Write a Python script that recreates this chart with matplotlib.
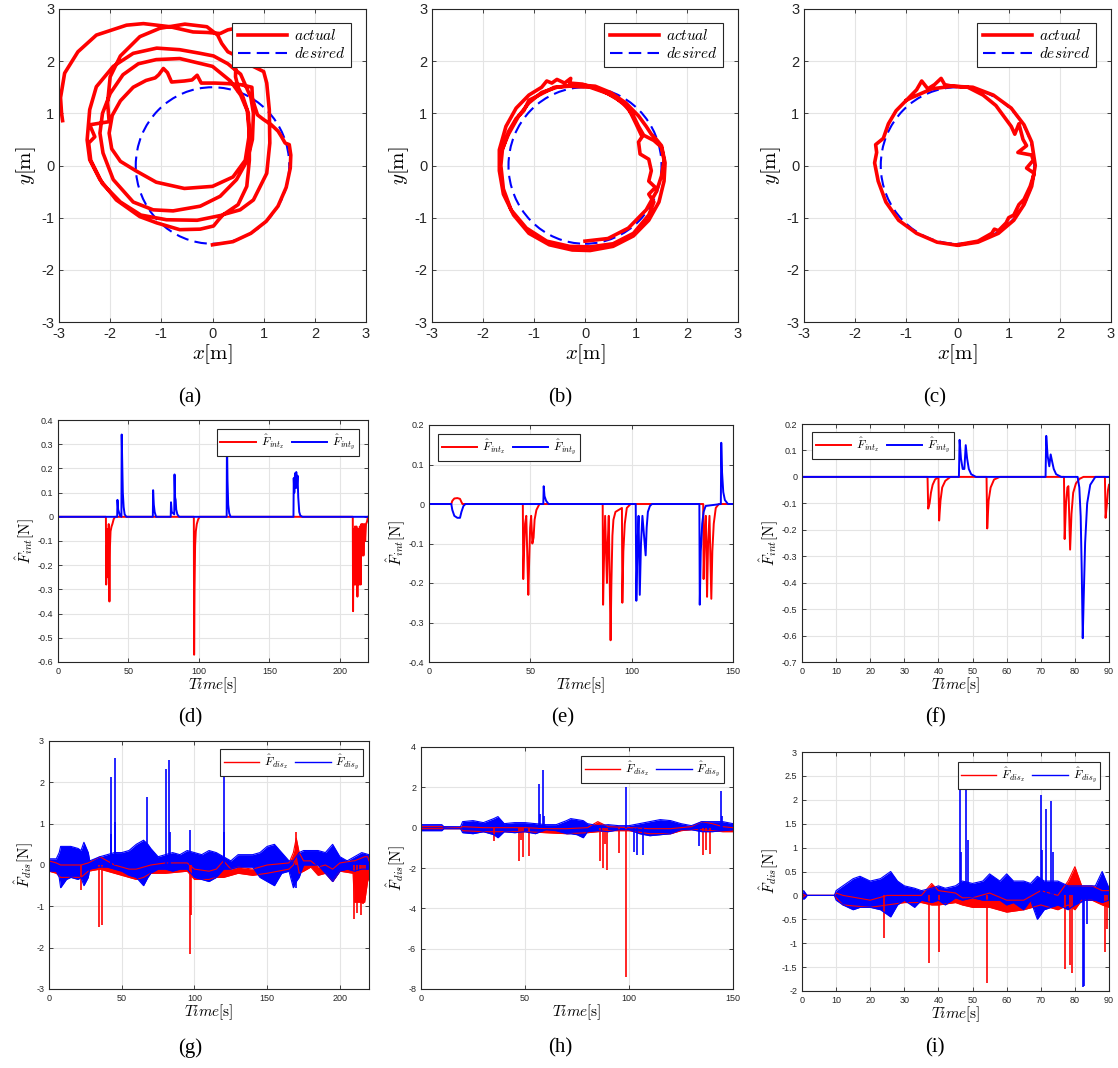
import matplotlib
matplotlib.use("Agg")
import matplotlib.pyplot as plt
from matplotlib.lines import Line2D
from matplotlib.patches import Circle
from matplotlib.ticker import FuncFormatter

plt.rcParams["font.family"] = ["Liberation Sans", "DejaVu Sans"]
plt.rcParams["mathtext.fontset"] = "cm"
plt.rcParams["axes.unicode_minus"] = False

W, H = 1118, 1068
RED, BLUE = "#ff0000", "#0000ff"

# ---------------- row 1: trajectories ----------------
DESIRED_RADIUS = 1.5

traj_a_x = [0.00, 0.40, 0.75, 1.05, 1.28, 1.44, 1.52, 1.53, 1.50, 1.42,
            1.35, 1.28, 1.15, 1.00, 0.88, 0.82, 0.78, 0.77, 0.55, 0.30, 0.05, -0.22, -0.30, -0.40, -0.55,
            -0.80, -0.88, -0.96, -1.05, -1.12, -1.30, -1.55, -1.80, -1.96, -2.02, -1.97, -1.80, -1.50,
            -1.10, -0.55, 0.00, 0.40, 0.64, 0.72, 0.68, 0.55,
            0.35, 0.00, -0.64, -1.10, -1.45, -1.75, -2.00, -2.15, -2.20, -2.14, -1.94, -1.55, -1.16,
            -0.77, -0.24, 0.15, 0.47, 0.68, 0.78, 0.80, 0.75,
            0.55, 0.30, 0.02, -0.24, -0.64, -1.09, -1.55, -1.94, -2.27, -2.40, -2.45, -2.40, -2.20,
            -1.88, -1.42, -1.09, -0.64, -0.24, 0.02, 0.12, 0.21, 0.54, 0.80, 1.06, 1.12, 1.11, 1.06,
            1.00, 0.67, 0.47, 0.30, 0.18, 0.10,
            -0.11, -0.54, -1.03, -1.42, -1.80, -2.00, -2.05, -2.02, -2.40, -2.30, -2.42, -2.38, -2.15,
            -1.80, -1.40, -0.90, -0.30, 0.20, 0.50, 0.67, 0.72, 0.72, 0.70, 0.60, 0.50, 0.45, 0.46,
            0.46, 0.40, 0.30, 0.15, -0.10, -0.38, -0.83, -1.35, -1.68, -2.27, -2.63, -2.89, -2.97,
            -2.95, -2.93]
traj_a_y = [-1.52, -1.46, -1.30, -1.07, -0.78, -0.42, -0.05, 0.20, 0.40, 0.43,
            0.55, 0.66, 0.78, 0.88, 0.97, 1.15, 1.30, 1.50, 1.55, 1.57, 1.58, 1.58, 1.73, 1.64, 1.62,
            1.60, 1.78, 1.86, 1.74, 1.68, 1.63, 1.50, 1.24, 0.96, 0.62, 0.32, 0.08, -0.10,
            -0.32, -0.44, -0.40, -0.22, 0.10, 0.60, 1.05, 1.35,
            1.62, 1.90, 2.05, 2.03, 1.95, 1.74, 1.38, 1.00, 0.62, 0.24, -0.27, -0.70, -0.85,
            -0.87, -0.78, -0.59, -0.27, 0.10, 0.50, 1.00, 1.30,
            1.75, 1.95, 2.10, 2.15, 2.22, 2.25, 2.15, 1.90, 1.51, 1.07, 0.49, 0.11, -0.27,
            -0.66, -0.98, -1.10, -1.23, -1.22, -1.16, -1.04, -0.94, -0.85, -0.66, -0.15, 0.43, 1.07, 1.58,
            1.80, 1.96, 2.10, 2.18, 2.34, 2.50,
            2.66, 2.71, 2.63, 2.47, 2.10, 1.70, 1.20, 0.84, 0.78, 0.55, 0.43, 0.10, -0.35,
            -0.70, -0.95, -1.04, -1.05, -0.95, -0.75, -0.40, 0.10, 0.60, 1.00, 1.30, 1.50, 1.70, 2.20,
            2.55, 2.62, 2.60, 2.53, 2.55, 2.56, 2.66, 2.72, 2.69, 2.50, 2.18, 1.77, 1.30,
            1.00, 0.86]

traj_b_x = [0.00, 0.45, 0.85, 1.20, 1.40, 1.50, 1.55, 1.50, 1.35, 1.15, 1.05, 0.95, 0.75, 0.45, 0.10,
            -0.30, -0.60, -0.90, -1.10, -1.20, -1.35, -1.50, -1.62, -1.65, -1.60, -1.45, -1.15, -0.75,
            -0.30, 0.10, 0.55, 0.95, 1.25, 1.35, 1.25, 1.38, 1.25, 1.30, 1.25, 1.08, 1.05, 1.12, 1.00,
            0.85, 0.60, 0.30, -0.05, -0.30, -0.28, -0.40, -0.55, -0.65, -0.75, -0.85, -1.10, -1.35,
            -1.55, -1.68, -1.68, -1.60, -1.40, -1.10, -0.70, -0.25, 0.10, 0.55, 0.95, 1.25, 1.45, 1.55,
            1.57, 1.50, 1.40, 1.30, 1.20, 1.05, 0.80, 0.50, 0.20, -0.20, -0.55, -0.85, -1.10, -1.30,
            -1.50, -1.65]
traj_b_y = [-1.45, -1.40, -1.20, -0.85, -0.50, -0.20, 0.10, 0.35, 0.48, 0.58, 0.75, 0.95, 1.20, 1.38,
            1.50, 1.52, 1.50, 1.35, 1.25, 1.05, 0.90, 0.65, 0.30, 0.00, -0.45, -0.85, -1.20, -1.45,
            -1.55, -1.56, -1.50, -1.30, -0.95, -0.70, -0.55, -0.42, -0.30, -0.10, 0.12, 0.22, 0.45,
            0.55, 0.80, 1.10, 1.30, 1.45, 1.56, 1.58, 1.67, 1.58, 1.65, 1.58, 1.62, 1.50, 1.35, 1.10,
            0.75, 0.30, -0.10, -0.55, -0.95, -1.30, -1.52, -1.62, -1.63, -1.55, -1.35, -1.05, -0.70,
            -0.30, 0.05, 0.38, 0.50, 0.60, 0.75, 0.95, 1.20, 1.40, 1.52, 1.55, 1.50, 1.40, 1.20, 0.95,
            0.60, 0.25]

traj_c_x = [0.00, 0.40, 0.67, 0.72, 0.80, 0.95, 1.00, 1.10, 1.20, 1.30, 1.42, 1.50, 1.35, 1.48, 1.45,
            1.18, 1.35, 1.28, 1.20, 1.12, 1.05, 0.90, 0.75, 0.50, 0.20, -0.10, -0.25, -0.32, -0.45,
            -0.58, -0.70, -0.80, -1.00, -1.20, -1.35, -1.45, -1.60, -1.58, -1.62, -1.55, -1.40, -1.15,
            -0.80, -0.40, 0.00, 0.40, 0.80, 1.10, 1.30, 1.45, 1.52, 1.45, 1.30, 1.05, 0.70, 0.30,
            -0.10, -0.50, -0.90, -1.00]
traj_c_y = [-1.52, -1.45, -1.30, -1.22, -1.25, -1.10, -1.00, -0.95, -0.75, -0.65, -0.40, -0.15,
            -0.05, 0.10, 0.20, 0.25, 0.38, 0.50, 0.80, 0.60, 0.75, 0.95, 1.15, 1.35, 1.50, 1.52, 1.55,
            1.67, 1.55, 1.47, 1.62, 1.45, 1.25, 1.05, 0.80, 0.52, 0.40, 0.25, 0.05, -0.30, -0.70,
            -1.05, -1.30, -1.47, -1.53, -1.47, -1.30, -1.05, -0.75, -0.40, 0.00, 0.45, 0.78, 1.10,
            1.35, 1.50, 1.52, 1.47, 1.30, 1.25]

# ---------------- row 2: interaction force estimates ----------------
d_tx = [0, 34.0, 34.2, 34.5, 34.8, 35.2, 35.6, 36.0, 36.5, 36.9, 37.3, 38.0, 38.6, 39.5, 40.5,
        96.4, 96.6, 96.9, 97.3, 97.8, 98.5, 99.5, 100.6,
        209.2, 209.4, 209.8, 210.3, 210.8, 211.3, 211.8, 212.5, 213.2, 213.7, 214.2, 214.8,
        215.3, 215.8, 216.3, 216.8, 217.4, 218.0, 218.6, 219.3, 220]
d_x = [0, 0, -0.28, -0.12, -0.25, -0.05, -0.18, -0.03, -0.35, -0.12, -0.06, -0.04, -0.03, -0.01, 0,
       0, -0.57, -0.30, -0.12, -0.06, -0.03, -0.01, 0,
       0, -0.39, -0.05, -0.28, -0.04, -0.28, -0.04, -0.33, -0.05, -0.28, -0.04, -0.28,
       -0.03, -0.16, -0.03, -0.16, -0.03, -0.10, -0.03, -0.02, 0]
d_ty = [0, 42.0, 42.2, 42.7, 43.2, 44.0, 45.0, 45.2, 45.6, 46.0, 46.6, 47.3, 48.5,
        67.3, 67.5, 68.0, 68.6, 69.6, 80.0, 80.2, 80.7, 82.5, 82.7, 83.1, 83.5, 83.9, 84.7, 86.0,
        119.7, 119.9, 120.3, 120.8, 121.5, 122.5, 167.1, 167.3, 167.7, 168.2, 168.6, 169.1,
        169.5, 170.0, 170.5, 171.2, 172.0, 173.5, 220]
d_y = [0, 0, 0.07, 0.03, 0.02, 0.005, 0, 0.34, 0.22, 0.10, 0.04, 0.01, 0,
       0, 0.11, 0.05, 0.02, 0, 0, 0.06, 0.02, 0.01, 0.175, 0.08, 0.07, 0.03, 0.01, 0,
       0, 0.33, 0.15, 0.05, 0.015, 0, 0, 0.16, 0.10, 0.18, 0.12, 0.185,
       0.12, 0.17, 0.08, 0.02, 0.005, 0, 0]

e_tx = [0, 11.0, 11.5, 12.5, 14.0, 15.3, 16.0, 16.5, 46.3, 46.5, 46.9, 47.4, 48.0, 49.0, 49.4, 49.9,
        50.4, 51.0, 51.6, 52.1, 53.0, 54.5, 85.7, 85.9, 86.3, 86.9, 87.8, 88.2, 88.7, 89.6, 90.0,
        90.5, 91.0, 92.0, 95.2, 95.4, 95.9, 96.6, 97.6, 99.5, 135.3, 135.5, 136.0, 136.6, 137.2,
        137.7, 138.4, 139.3, 139.8, 140.5, 141.5, 143.0, 150]
e_x = [0, 0, 0.008, 0.014, 0.015, 0.013, 0.005, 0, 0, -0.19, -0.12, -0.05, -0.03, -0.23, -0.15, -0.06,
       -0.03, -0.10, -0.085, -0.04, -0.015, 0, 0, -0.255, -0.15, -0.03, -0.20, -0.10, -0.03, -0.345,
       -0.20, -0.08, -0.04, -0.02, -0.01, -0.25, -0.12, -0.05, -0.01, 0, 0, -0.19, -0.08, -0.03,
       -0.235, -0.10, -0.03, -0.24, -0.12, -0.05, -0.01, 0, 0]
e_ty = [0, 11.0, 11.5, 12.5, 14.0, 15.3, 16.0, 17.0, 18.0, 56.4, 56.6, 57.0, 57.8, 59.0, 102.0,
        102.3, 102.8, 103.4, 104.0, 104.6, 105.3, 106.9, 107.4, 108.0, 109.0, 110.0, 133.4, 133.6,
        134.1, 134.8, 135.5, 136.5, 144.0, 144.2, 144.6, 145.2, 146.0, 147.5, 150]
e_y = [0, 0, -0.015, -0.03, -0.035, -0.035, -0.02, -0.005, 0, 0, 0.045, 0.02, 0.008, 0, 0,
       -0.245, -0.12, -0.03, -0.23, -0.10, -0.03, -0.13, -0.06, -0.02, -0.005, 0, 0, -0.255,
       -0.12, -0.05, -0.02, -0.005, 0, 0.155, 0.08, 0.03, 0.01, 0, 0]

f_tx = [0, 36.8, 37.0, 37.4, 37.8, 38.3, 39.0, 40.0, 40.2, 40.6, 41.1, 42.0, 43.5, 54.1, 54.3, 54.7,
        55.3, 56.3, 58.0, 76.8, 77.0, 77.4, 77.8, 78.1, 78.6, 79.0, 79.5, 80.3, 81.3, 82.5, 88.8,
        89.0, 89.4, 89.7, 90]
f_x = [0, 0, -0.12, -0.10, -0.06, -0.03, -0.01, 0, -0.165, -0.09, -0.04, -0.015, 0, 0, -0.195, -0.09,
       -0.04, -0.01, 0, 0, -0.235, -0.10, -0.04, -0.035, -0.275, -0.14, -0.06, -0.025, -0.008, 0, 0,
       -0.155, -0.10, -0.05, -0.03]
f_ty = [0, 46.0, 46.2, 46.6, 47.1, 47.6, 48.0, 48.4, 48.9, 49.6, 51.0, 71.4, 71.6, 72.0, 72.5, 72.9,
        73.3, 73.8, 74.5, 76.0, 80.8, 81.3, 81.7, 82.0, 82.3, 82.6, 83.0, 83.6, 84.5, 86.0, 90]
f_y = [0, 0, 0.14, 0.07, 0.03, 0.03, 0.12, 0.07, 0.03, 0.01, 0, 0, 0.155, 0.08, 0.04, 0.085,
       0.06, 0.03, 0.01, 0, 0, -0.04, -0.15, -0.35, -0.61, -0.45, -0.25, -0.10, -0.03, 0, 0]

# ---------------- row 3: disturbance estimates (noise envelopes + spikes) ----------------
g_bt = [0, 5, 7, 8, 12, 15, 20, 22, 24, 27, 28, 35, 40, 45, 50, 55, 60, 65, 68, 70, 75, 80, 85, 90,
        95, 100, 105, 110, 115, 120, 125, 130, 140, 145, 150, 155, 160, 165, 168, 170, 172, 175,
        180, 185, 190, 195, 200, 205, 210, 215, 220]
g_blo = [-0.15, -0.15, -0.3, -0.55, -0.35, -0.3, -0.35, -0.3, -0.5, -0.3, -0.1, -0.05, -0.05, -0.1,
         -0.15, -0.25, -0.3, -0.5, -0.3, -0.2, -0.1, -0.1, -0.15, -0.1, -0.1, -0.3, -0.35, -0.4,
         -0.3, -0.1, -0.1, -0.05, -0.05, -0.3, -0.4, -0.5, -0.2, -0.15, -0.55, -0.4, -0.3, 0.0,
         0.0, 0.0, -0.2, -0.4, -0.15, -0.1, -0.15, -0.1, -0.1]
g_bhi = [0.15, 0.15, 0.3, 0.45, 0.45, 0.45, 0.4, 0.35, 0.55, 0.3, 0.1, 0.2, 0.25, 0.3, 0.3, 0.35,
         0.5, 0.6, 0.5, 0.4, 0.2, 0.25, 0.3, 0.25, 0.35, 0.3, 0.25, 0.35, 0.3, 0.2, 0.1, 0.25,
         0.25, 0.3, 0.45, 0.5, 0.3, 0.1, 0.1, 0.2, 0.3, 0.35, 0.35, 0.35, 0.3, 0.5, 0.2, 0.1, 0.2,
         0.3, 0.25]
g_rt = [0, 5, 8, 22, 27, 35, 40, 45, 50, 55, 60, 65, 70, 80, 95, 100, 110, 115, 120, 125, 130, 140,
        150, 165, 168, 170, 172, 175, 180, 185, 190, 195, 200, 209, 210, 217, 219, 220]
g_rlo = [-0.15, -0.2, -0.3, -0.3, -0.15, -0.1, -0.15, -0.2, -0.25, -0.3, -0.35, -0.3, -0.2, -0.2,
         -0.15, -0.35, -0.35, -0.3, -0.3, -0.25, -0.2, -0.25, -0.2, -0.1, 0.0, 0.2, -0.2, -0.15,
         -0.05, -0.25, -0.2, -0.4, -0.15, -0.2, -0.9, -0.9, -0.4, -0.3]
g_rhi = [0.1, 0.05, 0.0, 0.0, 0.05, 0.2, 0.1, 0.0, -0.05, -0.1, -0.1, -0.05, 0.0, 0.05, 0.05, -0.1,
         -0.15, -0.1, 0.1, -0.1, -0.05, -0.1, 0.0, 0.05, 0.3, 0.65, 0.3, 0.1, 0.1, -0.05, 0.0, -0.1,
         0.05, 0.1, 0.1, 0.2, 0.2, 0.1]
g_bspike_t = [42.3, 42.9, 45.1, 45.6, 67.5, 80.5, 82.8, 83.4, 96.6, 120.1, 120.6, 169.5]
g_bspike_v = [2.12, 0.75, 2.6, 1.05, 1.65, 2.33, 2.55, 0.8, 0.85, 2.25, 0.8, -0.55]
g_rspike_t = [22.2, 34.3, 36.6, 97.0, 97.7, 169.8, 209.8, 211.7, 213.7, 214.6, 216.2, 217.5]
g_rspike_v = [-0.6, -1.5, -1.45, -2.15, -1.2, 0.8, -1.3, -1.15, -0.9, -1.2, -0.95, -0.8]

h_bt = [0, 10, 11, 19, 20, 25, 30, 35, 37, 40, 45, 50, 55, 60, 65, 70, 72, 75, 78, 80, 85, 90, 95,
        100, 105, 110, 115, 120, 125, 130, 135, 140, 145, 150]
h_blo = [-0.15, -0.15, -0.05, -0.05, -0.25, -0.3, -0.2, -0.35, -0.5, -0.2, -0.25, -0.2, -0.3, -0.1,
         -0.15, -0.3, -0.3, -0.35, -0.5, -0.2, -0.15, -0.2, -0.1, -0.1, -0.3, -0.4, -0.35, -0.3,
         -0.1, -0.1, -0.2, -0.2, -0.15, -0.1]
h_bhi = [0.15, 0.15, 0.05, 0.05, 0.3, 0.35, 0.25, 0.45, 0.55, 0.2, 0.25, 0.25, 0.2, 0.15, 0.15,
         0.35, 0.45, 0.4, 0.35, 0.2, 0.1, 0.15, 0.1, 0.1, 0.2, 0.3, 0.4, 0.35, 0.2, 0.1, 0.3, 0.3,
         0.3, 0.2]
h_rt = [0, 11, 19, 20, 30, 40, 50, 60, 70, 80, 85, 90, 100, 110, 120, 125, 130, 135, 140, 145, 150]
h_rlo = [-0.05, -0.05, -0.05, -0.15, -0.2, -0.2, -0.2, -0.25, -0.3, -0.25, -0.2, -0.15, -0.15,
         -0.3, -0.3, -0.15, -0.1, -0.1, -0.15, -0.2, -0.2]
h_rhi = [0.05, 0.05, 0.0, 0.05, 0.0, 0.0, 0.0, -0.05, -0.05, 0.0, 0.3, 0.05, 0.0, -0.05, -0.05,
         0.0, 0.05, 0.3, 0.2, 0.05, 0.0]
h_bspike_t = [56.7, 57.3, 58.7, 59.3, 98.4, 102.3, 104.0, 106.8, 133.7, 144.1, 144.6]
h_bspike_v = [2.15, 0.7, 2.85, 0.6, 2.0, -1.2, -1.35, -1.35, -0.9, 1.8, 0.6]
h_rspike_t = [35.0, 47.1, 48.0, 49.0, 51.9, 86.0, 87.6, 88.5, 89.6, 95.2, 98.4, 135.6, 137.2, 139.1]
h_rspike_v = [-0.65, -1.65, -0.6, -1.45, -1.4, -1.65, -2.0, -0.8, -2.1, -1.25, -7.4, -1.35, -1.1,
              -1.3]

i_bt = [0, 0.5, 1.0, 1.5, 9.5, 10, 12, 15, 17, 20, 23, 26, 28, 30, 33, 35, 38, 40, 42, 45, 47, 50,
        53, 55, 58, 60, 62, 65, 67, 69, 71, 75, 78, 80, 83, 86, 88, 90]
i_blo = [-0.05, -0.08, -0.05, 0, 0, -0.1, -0.2, -0.3, -0.25, -0.25, -0.3, -0.45, -0.2, -0.1, -0.25,
         -0.1, -0.15, -0.1, -0.2, -0.05, -0.1, -0.05, -0.1, -0.1, -0.1, -0.2, -0.15, -0.3, -0.1,
         -0.5, -0.3, -0.2, -0.3, -0.2, -0.1, -0.1, -0.15, -0.1]
i_bhi = [0.05, 0.1, 0.05, 0, 0, 0.1, 0.2, 0.35, 0.4, 0.3, 0.35, 0.5, 0.3, 0.2, 0.15, 0.1, 0.15, 0.2,
         0.15, 0.2, 0.3, 0.25, 0.3, 0.45, 0.3, 0.45, 0.3, 0.3, 0.25, 0.4, 0.3, 0.3, 0.2, 0.2, 0.2,
         0.2, 0.5, 0.15]
i_rt = [0, 1, 9.5, 10, 12, 20, 25, 30, 35, 38, 40, 45, 47, 50, 55, 60, 65, 70, 75, 78, 80, 82, 85,
        88, 90]
i_rlo = [-0.05, 0, 0, -0.05, -0.2, -0.25, -0.2, -0.15, -0.15, -0.2, -0.2, -0.15, -0.2, -0.25, -0.25,
         -0.35, -0.3, -0.2, -0.3, -0.2, -0.3, -0.1, -0.1, -0.2, -0.25]
i_rhi = [0.03, 0, 0, 0.05, 0.0, -0.1, 0.0, 0.0, 0.0, 0.25, 0.1, 0.05, -0.05, -0.05, 0.05, -0.1,
         -0.1, 0.1, 0.0, 0.3, 0.6, 0.2, 0.2, 0.1, 0.1]
i_bspike_t = [46.2, 46.7, 48.1, 48.6, 70.0, 70.5, 71.5, 73.0, 73.5, 82.3, 82.8, 83.6]
i_bspike_v = [2.4, 0.9, 2.58, 1.15, 2.1, 0.95, 1.8, 1.98, 0.9, -1.92, -1.9, -0.6]
i_rspike_t = [24.0, 37.1, 40.1, 54.2, 77.1, 78.5, 79.2, 88.8, 89.4]
i_rspike_v = [-0.9, -1.42, -1.18, -1.83, -1.55, -1.45, -1.62, -1.18, -0.7]

panel_labels = ["(a)", "(b)", "(c)", "(d)", "(e)", "(f)", "(g)", "(h)", "(i)"]


def add_axes_px(fig, left, top, right, bottom):
    return fig.add_axes([left / W, 1 - bottom / H, (right - left) / W, (bottom - top) / H])


def style_axes(ax, tick_size):
    ax.grid(True, color="#e4e4e4", linewidth=0.8)
    ax.set_axisbelow(True)
    ax.tick_params(direction="in", top=True, right=True, labelsize=tick_size, length=3,
                   width=0.6, colors="#262626")
    for s in ax.spines.values():
        s.set_linewidth(0.8)
        s.set_color("#262626")
    fmt = FuncFormatter(lambda v, p: f"{round(v, 6) + 0.0:g}")
    ax.xaxis.set_major_formatter(fmt)
    ax.yaxis.set_major_formatter(fmt)


def draw_traj(ax, xs, ys):
    ax.plot(xs, ys, color=RED, lw=2.6, solid_joinstyle="round")
    ax.add_patch(Circle((0, 0), DESIRED_RADIUS, fill=False, ec=BLUE, lw=1.5,
                        ls=(0, (6, 3))))
    ax.set_xlim(-3, 3)
    ax.set_ylim(-3, 3)
    ax.set_xticks(range(-3, 4))
    ax.set_yticks(range(-3, 4))
    style_axes(ax, 10.5)
    ax.set_xlabel(r"$x[\mathrm{m}]$", fontsize=15, labelpad=1)
    ax.set_ylabel(r"$y[\mathrm{m}]$", fontsize=15, labelpad=2)
    handles = [Line2D([], [], color=RED, lw=2.6),
               Line2D([], [], color=BLUE, lw=1.5, ls=(0, (6, 3)))]
    leg = ax.legend(handles, [r"$\mathit{actual}$", r"$\mathit{desired}$"], loc="upper right",
                    bbox_to_anchor=(0.951, 0.955), borderaxespad=0, fontsize=11,
                    fancybox=False, framealpha=1, edgecolor="#262626", handlelength=3.2,
                    handletextpad=0.5, borderpad=0.35, labelspacing=0.2)
    leg.get_frame().set_linewidth(0.8)


def draw_force(ax, tx, vx, ty, vy, xmax, xticks, yticks, loc, anchor):
    lx, = ax.plot(tx, vx, color=RED, lw=1.4)
    ly, = ax.plot(ty, vy, color=BLUE, lw=1.4)
    ax.set_xlim(0, xmax)
    ax.set_ylim(yticks[0], yticks[-1])
    ax.set_xticks(xticks)
    ax.set_yticks(yticks)
    style_axes(ax, 6.5)
    ax.set_xlabel(r"$Time[\mathrm{s}]$", fontsize=11, labelpad=0)
    ax.set_ylabel(r"$\hat{F}_{int}[\mathrm{N}]$", fontsize=11, labelpad=1)
    leg = ax.legend([lx, ly], [r"$\hat{F}_{int_x}$", r"$\hat{F}_{int_y}$"], loc=loc,
                    bbox_to_anchor=anchor, borderaxespad=0, ncol=2, fontsize=8.5,
                    fancybox=False, framealpha=1, edgecolor="#262626", handlelength=3.0,
                    handletextpad=0.4, columnspacing=0.6, borderpad=0.3)
    leg.get_frame().set_linewidth(0.8)


def draw_dist(ax, rt, rlo, rhi, bt, blo, bhi, rst, rsv, bst, bsv, xmax, xticks, yticks, anchor):
    ax.fill_between(rt, rlo, rhi, color=RED, lw=0)
    ax.plot(rt, rlo, color=RED, lw=0.8)
    ax.plot(rt, rhi, color=RED, lw=0.8)
    ax.vlines(rst, 0, rsv, color=RED, lw=1.2)
    ax.fill_between(bt, blo, bhi, color=BLUE, lw=0)
    ax.plot(bt, blo, color=BLUE, lw=0.8)
    ax.plot(bt, bhi, color=BLUE, lw=0.8)
    ax.vlines(bst, 0, bsv, color=BLUE, lw=1.2)
    ax.set_xlim(0, xmax)
    ax.set_ylim(yticks[0], yticks[-1])
    ax.set_xticks(xticks)
    ax.set_yticks(yticks)
    style_axes(ax, 6.5)
    ax.set_xlabel(r"$Time[\mathrm{s}]$", fontsize=11, labelpad=0)
    ax.set_ylabel(r"$\hat{F}_{dis}[\mathrm{N}]$", fontsize=11, labelpad=1)
    handles = [Line2D([], [], color=RED, lw=1.0), Line2D([], [], color=BLUE, lw=1.0)]
    leg = ax.legend(handles, [r"$\hat{F}_{dis_x}$", r"$\hat{F}_{dis_y}$"], loc="upper right",
                    bbox_to_anchor=anchor, borderaxespad=0, ncol=2, fontsize=8.5,
                    fancybox=False, framealpha=1, edgecolor="#262626", handlelength=3.0,
                    handletextpad=0.4, columnspacing=0.6, borderpad=0.3)
    leg.get_frame().set_linewidth(0.8)


fig = plt.figure(figsize=(W / 100, H / 100), dpi=100)

ax_a = add_axes_px(fig, 59, 9, 366, 322)
ax_b = add_axes_px(fig, 432, 9, 738, 322)
ax_c = add_axes_px(fig, 804, 9, 1111, 322)
draw_traj(ax_a, traj_a_x, traj_a_y)
draw_traj(ax_b, traj_b_x, traj_b_y)
draw_traj(ax_c, traj_c_x, traj_c_y)

ax_d = add_axes_px(fig, 58, 420, 368, 662)
ax_e = add_axes_px(fig, 429, 425, 733, 662)
ax_f = add_axes_px(fig, 802, 424, 1109, 662)
draw_force(ax_d, d_tx, d_x, d_ty, d_y, 220, [0, 50, 100, 150, 200],
           [-0.6, -0.5, -0.4, -0.3, -0.2, -0.1, 0, 0.1, 0.2, 0.3, 0.4], "upper right", (0.971, 0.963))
draw_force(ax_e, e_tx, e_x, e_ty, e_y, 150, [0, 50, 100, 150],
           [-0.4, -0.3, -0.2, -0.1, 0, 0.1, 0.2], "upper left", (0.03, 0.962))
draw_force(ax_f, f_tx, f_x, f_ty, f_y, 90, list(range(0, 91, 10)),
           [-0.7, -0.6, -0.5, -0.4, -0.3, -0.2, -0.1, 0, 0.1, 0.2], "upper left", (0.033, 0.966))

ax_g = add_axes_px(fig, 49, 741, 369, 989)
ax_h = add_axes_px(fig, 421, 747, 733, 989)
ax_i = add_axes_px(fig, 802, 752, 1109, 991)
draw_dist(ax_g, g_rt, g_rlo, g_rhi, g_bt, g_blo, g_bhi, g_rspike_t, g_rspike_v, g_bspike_t,
          g_bspike_v, 220, [0, 50, 100, 150, 200], [-3, -2, -1, 0, 1, 2, 3], (0.981, 0.968))
draw_dist(ax_h, h_rt, h_rlo, h_rhi, h_bt, h_blo, h_bhi, h_rspike_t, h_rspike_v, h_bspike_t,
          h_bspike_v, 150, [0, 50, 100, 150], [-8, -6, -4, -2, 0, 2, 4], (0.971, 0.963))
draw_dist(ax_i, i_rt, i_rlo, i_rhi, i_bt, i_blo, i_bhi, i_rspike_t, i_rspike_v, i_bspike_t,
          i_bspike_v, 90, list(range(0, 91, 10)),
          [-2, -1.5, -1, -0.5, 0, 0.5, 1, 1.5, 2, 2.5, 3], (0.971, 0.958))

label_pos = [(190, 398), (560, 398), (935, 398), (190, 718), (563, 718), (935, 718),
             (190, 1048), (560, 1048), (935, 1048)]
for lab, (px, py) in zip(panel_labels, label_pos):
    fig.text(px / W, 1 - py / H, lab, ha="center", va="center", fontsize=15,
             family=["Liberation Serif", "DejaVu Serif"])

fig.savefig("out.png", dpi=100, facecolor="white")
